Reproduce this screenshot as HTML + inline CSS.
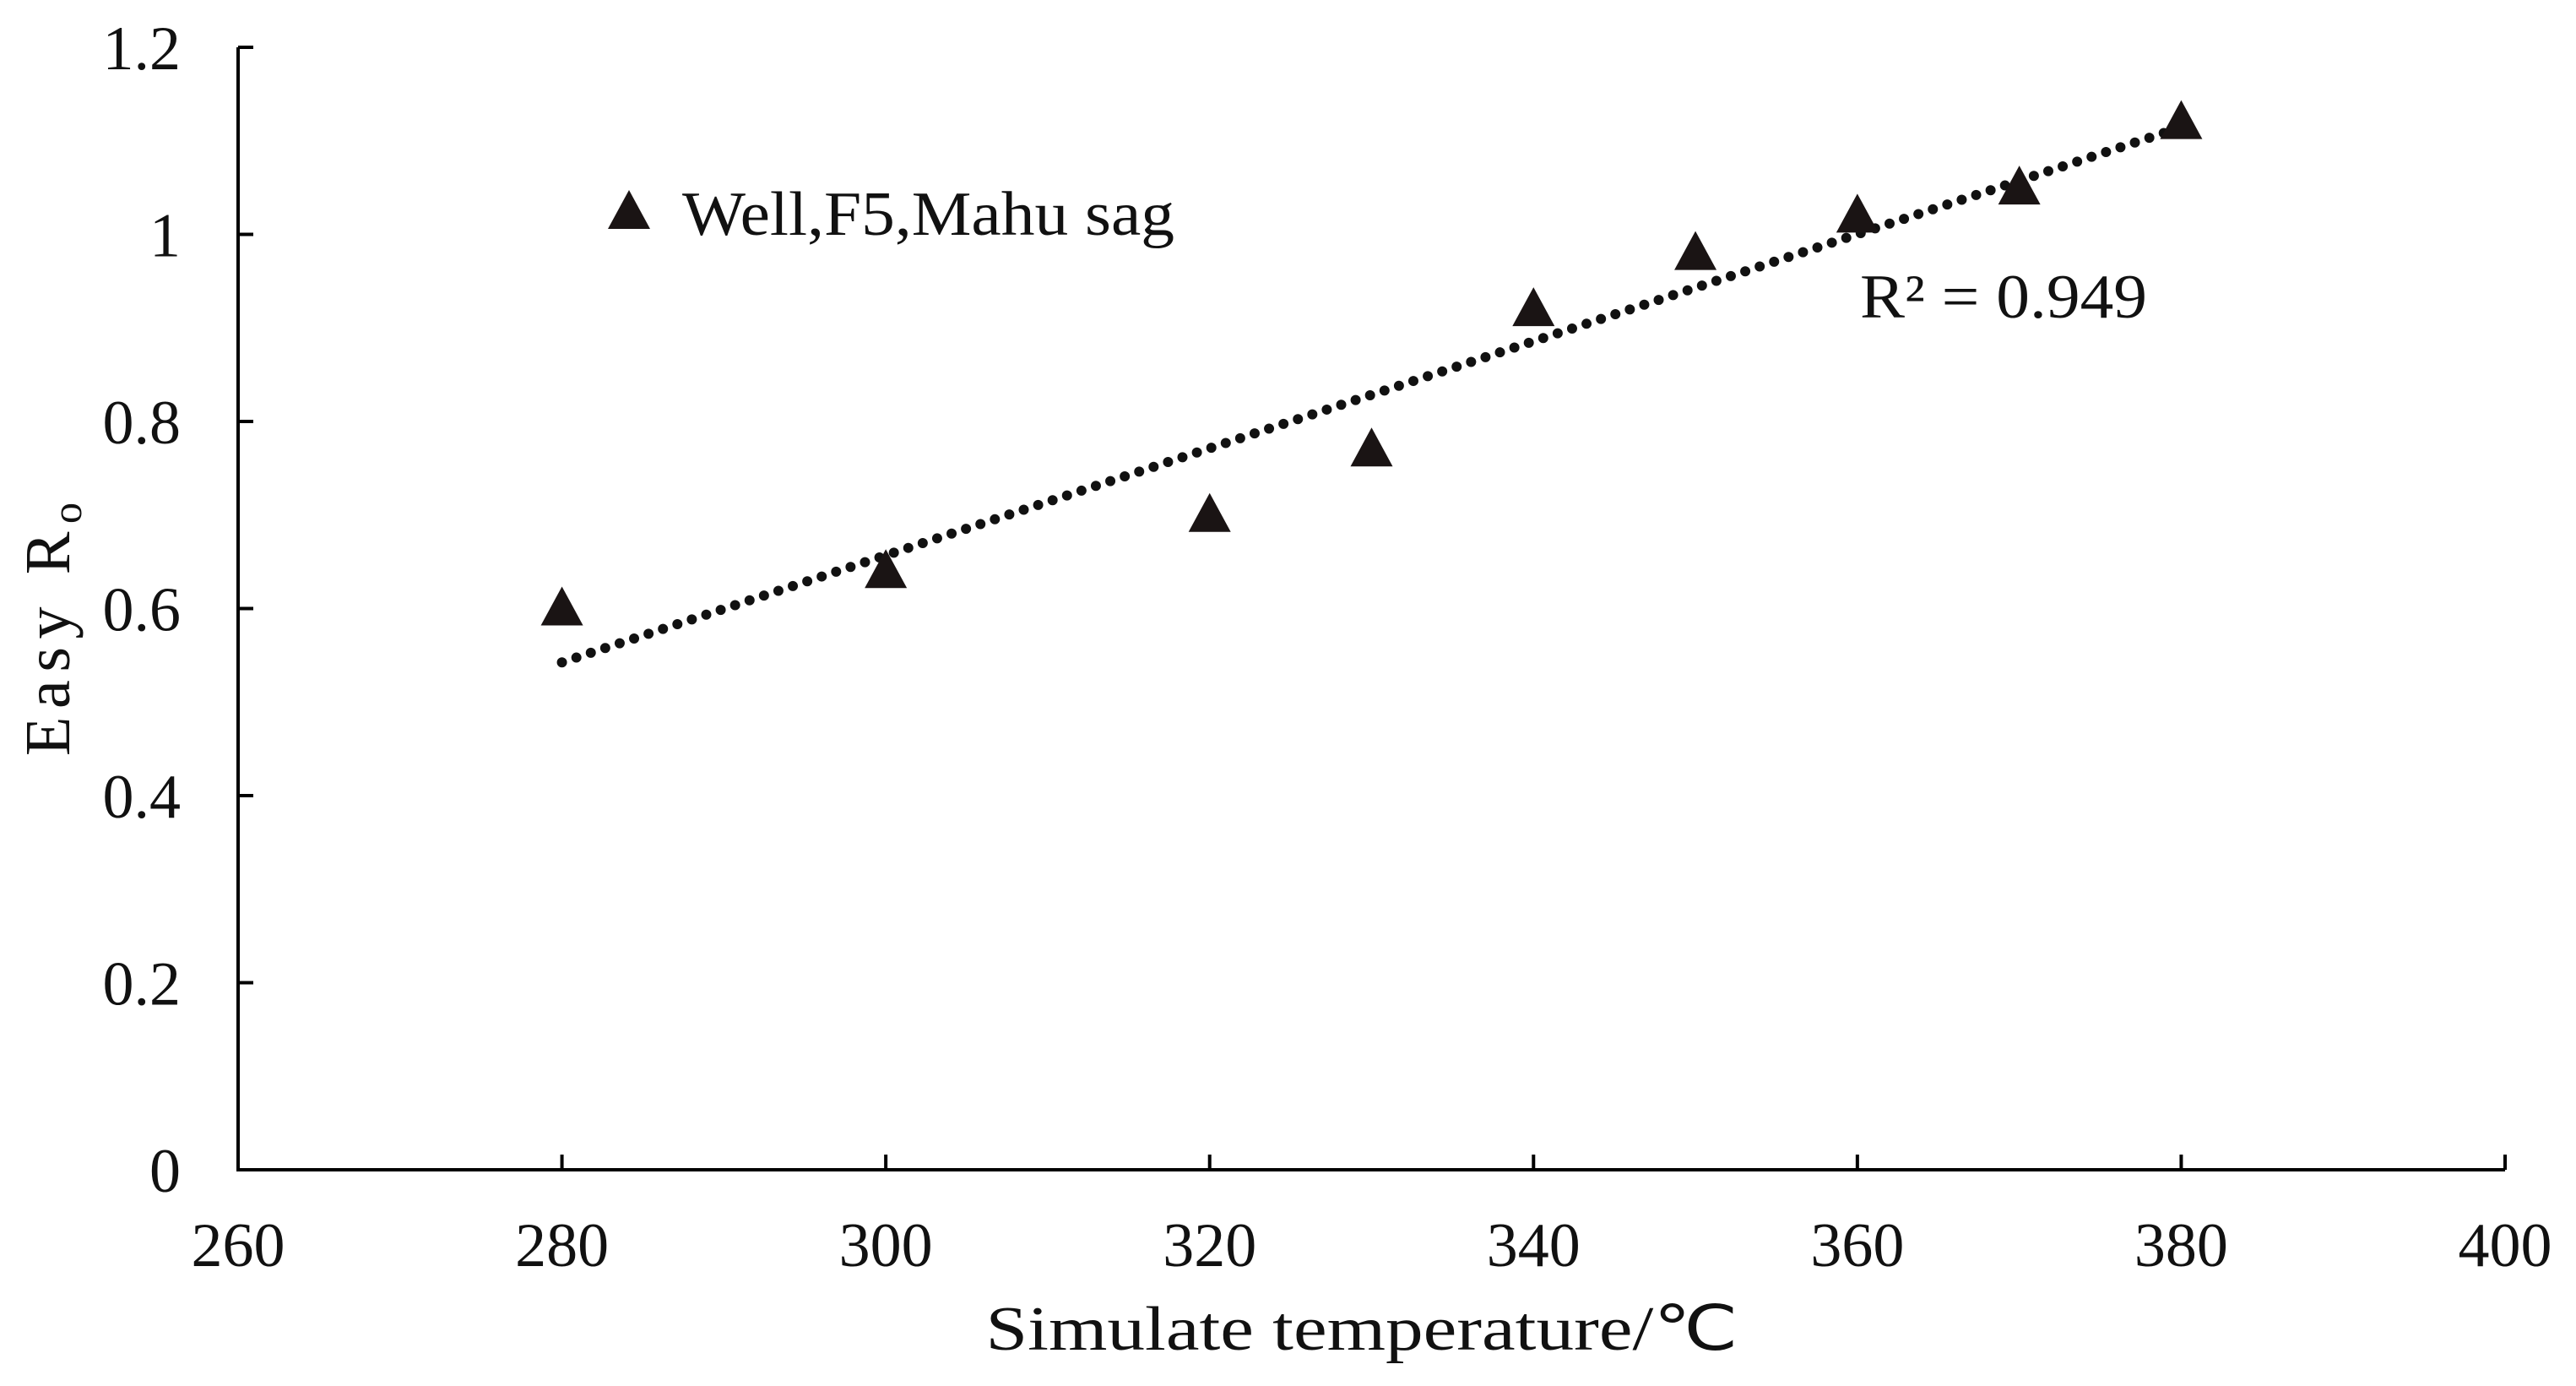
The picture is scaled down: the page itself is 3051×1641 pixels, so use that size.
<!DOCTYPE html>
<html><head><meta charset="utf-8"><style>
html,body{margin:0;padding:0;background:#fff;}
svg{display:block;font-family:"Liberation Serif",serif;}
</style></head><body>
<svg id="chart" width="3051" height="1641" viewBox="0 0 3051 1641">
<g id="axes"></g>
<g id="marks"></g>
</svg>
<script>
const temps = [280, 300, 320, 330, 340, 350, 360, 370, 380];
const roValues = [0.60, 0.64, 0.70, 0.77, 0.92, 0.98, 1.02, 1.05, 1.12];
const xTicks = [260, 280, 300, 320, 340, 360, 380, 400];
const yTicks = [0, 0.2, 0.4, 0.6, 0.8, 1, 1.2];
const yTickLabels = ["0", "0.2", "0.4", "0.6", "0.8", "1", "1.2"];

const NS = "http://www.w3.org/2000/svg";
const X0 = 282, X1 = 2967, Y0 = 1385, Y1 = 56;
function sx(v){ return X0 + (v - 260) / 140 * (X1 - X0); }
function sy(v){ return Y0 - v / 1.2 * (Y0 - Y1); }
function mk(tag, attrs, parent){ const e = document.createElementNS(NS, tag); for (const k in attrs) e.setAttribute(k, attrs[k]); parent.appendChild(e); return e; }

const axes = document.getElementById('axes');
const marks = document.getElementById('marks');

const xAxis = mk('line', {x1: X0, y1: Y0, x2: X1, y2: Y0, stroke: '#000', 'stroke-width': 4}, axes);


const yAxis = mk('line', {x1: X0, y1: Y0 + 2, x2: X0, y2: Y1, stroke: '#000', 'stroke-width': 4}, axes);



xTicks.forEach(t => {
  const x = sx(t);
  const tk = mk('line', {x1: x, y1: Y0, x2: x, y2: Y0 - 18, stroke: '#000', 'stroke-width': 4}, axes);
  
  
  const lb = mk('text', {x: x, y: Y0 + 114, 'font-size': 74, 'text-anchor': 'middle', fill: '#111'}, axes);
  lb.textContent = t;
  
  
});
yTicks.forEach((t, i) => {
  const y = sy(t);
  const tk = mk('line', {x1: X0, y1: y, x2: X0 + 18, y2: y, stroke: '#000', 'stroke-width': 4}, axes);
  
  
  const lb = mk('text', {x: 214, y: y + 26, 'font-size': 74, 'text-anchor': 'end', fill: '#111'}, axes);
  lb.textContent = yTickLabels[i];
  
  
});

const xt = mk('text', {x: 1613, y: 1598, 'font-size': 74, 'text-anchor': 'middle', fill: '#111', textLength: 891, lengthAdjust: 'spacingAndGlyphs'}, axes);
xt.textContent = 'Simulate temperature/℃';



const yt = mk('text', {x: 0, y: 0, 'font-size': 76, 'text-anchor': 'middle', fill: '#111', transform: 'translate(82,745) rotate(-90)', textLength: 300, lengthAdjust: 'spacing'}, axes);
yt.innerHTML = 'Easy  R<tspan font-size="50" dy="14">o</tspan>';



const n = temps.length;
const mx = temps.reduce((a,b)=>a+b,0)/n, my = roValues.reduce((a,b)=>a+b,0)/n;
let sxy = 0, sxx = 0;
for (let i=0;i<n;i++){ sxy += (temps[i]-mx)*(roValues[i]-my); sxx += (temps[i]-mx)**2; }
const slope = sxy/sxx, icpt = my - slope*mx;
const tMin = Math.min(...temps), tMax = Math.max(...temps);
const trend = mk('line', {x1: sx(tMin), y1: sy(icpt+slope*tMin), x2: sx(tMax), y2: sy(icpt+slope*tMax), stroke: '#111', 'stroke-width': 12, 'stroke-linecap': 'round', 'stroke-dasharray': '0 18'}, marks);



function tri(cx, cy, parent){
  return mk('polygon', {points: `${cx},${cy-26} ${cx-25},${cy+20} ${cx+25},${cy+20}`, fill: '#1a1414'}, parent);
}
temps.forEach((t, i) => {
  const p = tri(sx(t), sy(roValues[i]), marks);
  
  
});

const lgTri = tri(745, 251, marks);


const lg = mk('text', {x: 808, y: 278, 'font-size': 74, fill: '#111', textLength: 583, lengthAdjust: 'spacingAndGlyphs'}, marks);
lg.textContent = 'Well,F5,Mahu sag';



const r2 = mk('text', {x: 2203, y: 376, 'font-size': 74, fill: '#111', textLength: 340, lengthAdjust: 'spacingAndGlyphs'}, marks);
r2.textContent = 'R² = 0.949';


</script>
</body></html>
